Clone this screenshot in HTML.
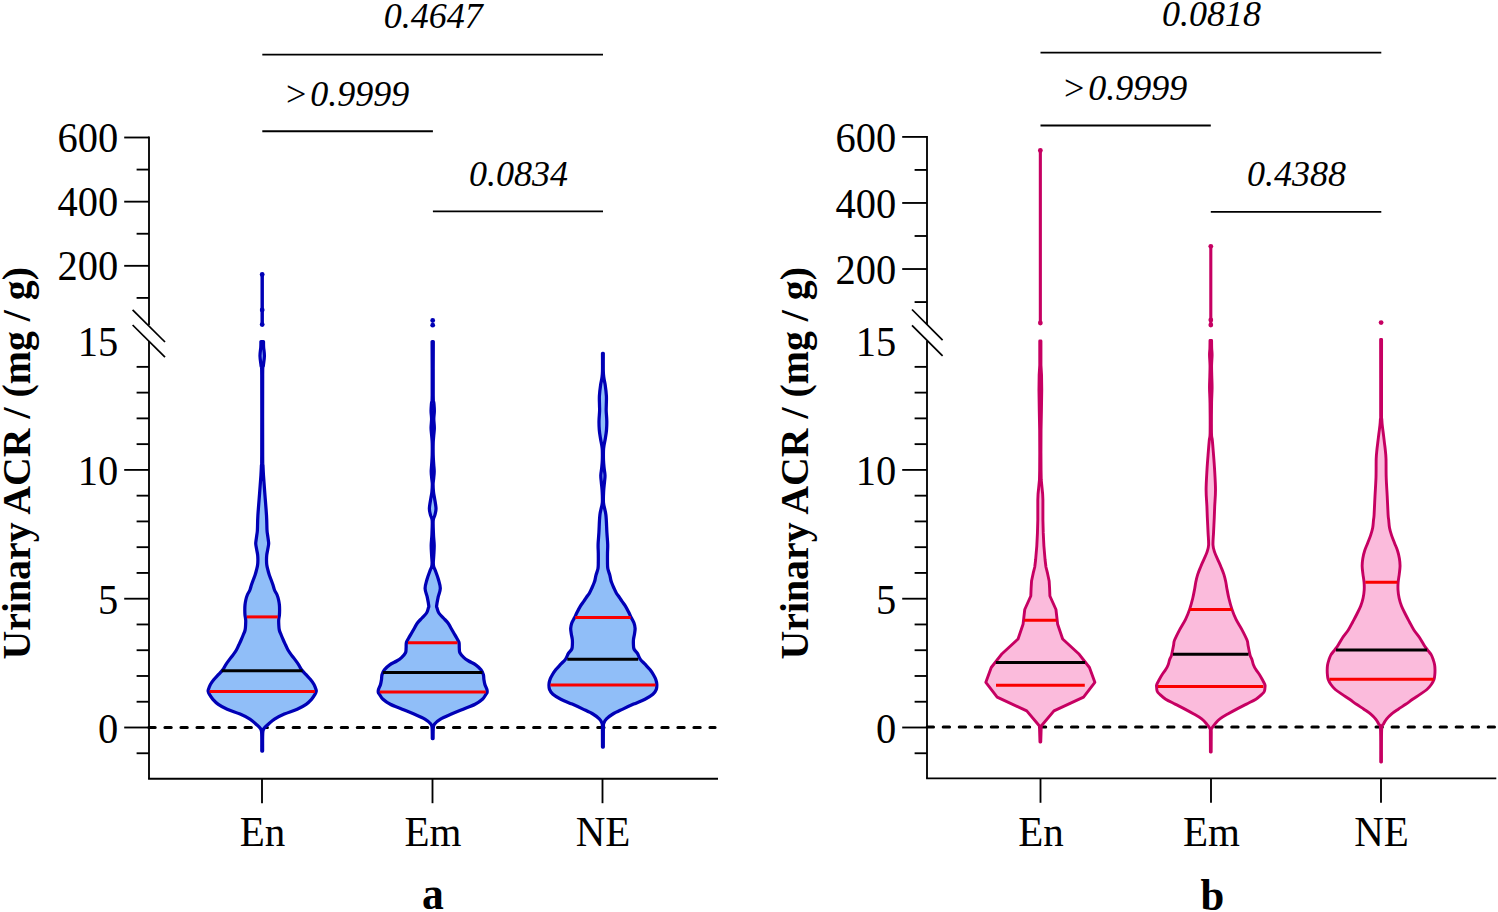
<!DOCTYPE html>
<html><head><meta charset="utf-8"><style>
html,body{margin:0;padding:0;background:#fff;overflow:hidden;}
svg{display:block;font-family:"Liberation Serif", serif;}
</style></head><body>
<svg width="1498" height="912" viewBox="0 0 1498 912">
<rect width="1498" height="912" fill="#fff"/>
<line x1="149" y1="136.57" x2="149" y2="325.00" stroke="#000" stroke-width="1.85"/>
<line x1="149" y1="341.00" x2="149" y2="778.70" stroke="#000" stroke-width="1.85"/>
<line x1="148.075" y1="778.7" x2="718" y2="778.7" stroke="#000" stroke-width="1.85"/>
<line x1="136.60" y1="297.90" x2="149" y2="297.90" stroke="#000" stroke-width="1.85"/>
<line x1="124.20" y1="265.82" x2="149" y2="265.82" stroke="#000" stroke-width="1.85"/>
<line x1="136.60" y1="233.74" x2="149" y2="233.74" stroke="#000" stroke-width="1.85"/>
<line x1="124.20" y1="201.66" x2="149" y2="201.66" stroke="#000" stroke-width="1.85"/>
<line x1="136.60" y1="169.58" x2="149" y2="169.58" stroke="#000" stroke-width="1.85"/>
<line x1="124.20" y1="137.50" x2="149" y2="137.50" stroke="#000" stroke-width="1.85"/>
<line x1="136.60" y1="753.26" x2="149" y2="753.26" stroke="#000" stroke-width="1.85"/>
<line x1="124.20" y1="727.50" x2="149" y2="727.50" stroke="#000" stroke-width="1.85"/>
<line x1="136.60" y1="701.74" x2="149" y2="701.74" stroke="#000" stroke-width="1.85"/>
<line x1="136.60" y1="675.98" x2="149" y2="675.98" stroke="#000" stroke-width="1.85"/>
<line x1="136.60" y1="650.22" x2="149" y2="650.22" stroke="#000" stroke-width="1.85"/>
<line x1="136.60" y1="624.46" x2="149" y2="624.46" stroke="#000" stroke-width="1.85"/>
<line x1="124.20" y1="598.70" x2="149" y2="598.70" stroke="#000" stroke-width="1.85"/>
<line x1="136.60" y1="572.94" x2="149" y2="572.94" stroke="#000" stroke-width="1.85"/>
<line x1="136.60" y1="547.18" x2="149" y2="547.18" stroke="#000" stroke-width="1.85"/>
<line x1="136.60" y1="521.42" x2="149" y2="521.42" stroke="#000" stroke-width="1.85"/>
<line x1="136.60" y1="495.66" x2="149" y2="495.66" stroke="#000" stroke-width="1.85"/>
<line x1="124.20" y1="469.90" x2="149" y2="469.90" stroke="#000" stroke-width="1.85"/>
<line x1="136.60" y1="444.14" x2="149" y2="444.14" stroke="#000" stroke-width="1.85"/>
<line x1="136.60" y1="418.38" x2="149" y2="418.38" stroke="#000" stroke-width="1.85"/>
<line x1="136.60" y1="392.62" x2="149" y2="392.62" stroke="#000" stroke-width="1.85"/>
<line x1="136.60" y1="366.86" x2="149" y2="366.86" stroke="#000" stroke-width="1.85"/>
<text transform="translate(118.20,152.00) scale(0.952,1)" font-size="42.5" text-anchor="end">600</text>
<text transform="translate(118.20,216.16) scale(0.952,1)" font-size="42.5" text-anchor="end">400</text>
<text transform="translate(118.20,280.32) scale(0.952,1)" font-size="42.5" text-anchor="end">200</text>
<text transform="translate(118.20,356.10) scale(0.952,1)" font-size="42.5" text-anchor="end">15</text>
<text transform="translate(118.20,484.90) scale(0.952,1)" font-size="42.5" text-anchor="end">10</text>
<text transform="translate(118.20,613.70) scale(0.952,1)" font-size="42.5" text-anchor="end">5</text>
<text transform="translate(118.20,742.50) scale(0.952,1)" font-size="42.5" text-anchor="end">0</text>
<line x1="132.6" y1="309.9" x2="165" y2="342" stroke="#000" stroke-width="1.75"/>
<line x1="132.6" y1="325" x2="165" y2="357.1" stroke="#000" stroke-width="1.75"/>
<line x1="262" y1="778.7" x2="262" y2="803.20" stroke="#000" stroke-width="1.85"/>
<text transform="translate(262.50,845.60) scale(0.988,1)" font-size="41.5" text-anchor="middle">En</text>
<line x1="432.5" y1="778.7" x2="432.5" y2="803.20" stroke="#000" stroke-width="1.85"/>
<text transform="translate(433.00,845.60) scale(0.988,1)" font-size="41.5" text-anchor="middle">Em</text>
<line x1="602.5" y1="778.7" x2="602.5" y2="803.20" stroke="#000" stroke-width="1.85"/>
<text transform="translate(603.00,845.60) scale(0.988,1)" font-size="41.5" text-anchor="middle">NE</text>
<path d="M148.87,727.5H155.22M164.90,727.5H171.25M180.93,727.5H187.28M196.96,727.5H203.31M212.99,727.5H219.34M229.02,727.5H235.37M245.05,727.5H251.40M261.08,727.5H267.43M277.11,727.5H283.46M293.14,727.5H299.49M309.17,727.5H315.52M325.20,727.5H331.55M341.23,727.5H347.58M357.26,727.5H363.61M373.29,727.5H379.64M389.32,727.5H395.67M405.35,727.5H411.70M421.38,727.5H427.73M437.41,727.5H443.76M453.44,727.5H459.79M469.47,727.5H475.82M485.50,727.5H491.85M501.53,727.5H507.88M517.56,727.5H523.91M533.59,727.5H539.94M549.62,727.5H555.97M565.65,727.5H572.00M581.68,727.5H588.03M597.71,727.5H604.06M613.74,727.5H620.09M629.77,727.5H636.12M645.80,727.5H652.15M661.83,727.5H668.18M677.86,727.5H684.21M693.89,727.5H700.24M709.92,727.5H715.10" stroke="#000" stroke-width="3.0" stroke-linecap="round" fill="none"/>
<text transform="translate(30.20,463.30) rotate(-90)" font-size="39.8" text-anchor="middle" font-weight="bold">Urinary ACR / (mg / g)</text>
<text transform="translate(433.00,909.40) scale(0.95,1)" font-size="46" text-anchor="middle" font-weight="bold">a</text>
<line x1="262.3" y1="54.6" x2="603" y2="54.6" stroke="#000" stroke-width="1.85"/>
<text x="433.3" y="28.4" font-size="36" font-style="italic" text-anchor="middle">0.4647</text>
<line x1="262.3" y1="131.2" x2="432.9" y2="131.2" stroke="#000" stroke-width="1.85"/>
<text x="283.80" y="105.6" font-size="36" font-style="italic">&gt;</text>
<text x="310.30" y="105.6" font-size="36" font-style="italic">0.9999</text>
<line x1="432.9" y1="211.3" x2="603" y2="211.3" stroke="#000" stroke-width="1.85"/>
<text x="518.4" y="185.5" font-size="36" font-style="italic" text-anchor="middle">0.0834</text>
<line x1="927" y1="135.97" x2="927" y2="325.00" stroke="#000" stroke-width="1.85"/>
<line x1="927" y1="341.00" x2="927" y2="778.30" stroke="#000" stroke-width="1.85"/>
<line x1="926.075" y1="778.3" x2="1496.3" y2="778.3" stroke="#000" stroke-width="1.85"/>
<line x1="914.60" y1="302.05" x2="927" y2="302.05" stroke="#000" stroke-width="1.85"/>
<line x1="902.20" y1="269.02" x2="927" y2="269.02" stroke="#000" stroke-width="1.85"/>
<line x1="914.60" y1="235.99" x2="927" y2="235.99" stroke="#000" stroke-width="1.85"/>
<line x1="902.20" y1="202.96" x2="927" y2="202.96" stroke="#000" stroke-width="1.85"/>
<line x1="914.60" y1="169.93" x2="927" y2="169.93" stroke="#000" stroke-width="1.85"/>
<line x1="902.20" y1="136.90" x2="927" y2="136.90" stroke="#000" stroke-width="1.85"/>
<line x1="914.60" y1="753.26" x2="927" y2="753.26" stroke="#000" stroke-width="1.85"/>
<line x1="902.20" y1="727.50" x2="927" y2="727.50" stroke="#000" stroke-width="1.85"/>
<line x1="914.60" y1="701.74" x2="927" y2="701.74" stroke="#000" stroke-width="1.85"/>
<line x1="914.60" y1="675.98" x2="927" y2="675.98" stroke="#000" stroke-width="1.85"/>
<line x1="914.60" y1="650.22" x2="927" y2="650.22" stroke="#000" stroke-width="1.85"/>
<line x1="914.60" y1="624.46" x2="927" y2="624.46" stroke="#000" stroke-width="1.85"/>
<line x1="902.20" y1="598.70" x2="927" y2="598.70" stroke="#000" stroke-width="1.85"/>
<line x1="914.60" y1="572.94" x2="927" y2="572.94" stroke="#000" stroke-width="1.85"/>
<line x1="914.60" y1="547.18" x2="927" y2="547.18" stroke="#000" stroke-width="1.85"/>
<line x1="914.60" y1="521.42" x2="927" y2="521.42" stroke="#000" stroke-width="1.85"/>
<line x1="914.60" y1="495.66" x2="927" y2="495.66" stroke="#000" stroke-width="1.85"/>
<line x1="902.20" y1="469.90" x2="927" y2="469.90" stroke="#000" stroke-width="1.85"/>
<line x1="914.60" y1="444.14" x2="927" y2="444.14" stroke="#000" stroke-width="1.85"/>
<line x1="914.60" y1="418.38" x2="927" y2="418.38" stroke="#000" stroke-width="1.85"/>
<line x1="914.60" y1="392.62" x2="927" y2="392.62" stroke="#000" stroke-width="1.85"/>
<line x1="914.60" y1="366.86" x2="927" y2="366.86" stroke="#000" stroke-width="1.85"/>
<text transform="translate(896.20,151.80) scale(0.952,1)" font-size="42.5" text-anchor="end">600</text>
<text transform="translate(896.20,217.86) scale(0.952,1)" font-size="42.5" text-anchor="end">400</text>
<text transform="translate(896.20,283.92) scale(0.952,1)" font-size="42.5" text-anchor="end">200</text>
<text transform="translate(896.20,356.10) scale(0.952,1)" font-size="42.5" text-anchor="end">15</text>
<text transform="translate(896.20,484.90) scale(0.952,1)" font-size="42.5" text-anchor="end">10</text>
<text transform="translate(896.20,613.70) scale(0.952,1)" font-size="42.5" text-anchor="end">5</text>
<text transform="translate(896.20,742.50) scale(0.952,1)" font-size="42.5" text-anchor="end">0</text>
<line x1="912" y1="309.5" x2="942.6" y2="340.1" stroke="#000" stroke-width="1.75"/>
<line x1="912" y1="325.3" x2="942.6" y2="355.9" stroke="#000" stroke-width="1.75"/>
<line x1="1040.5" y1="778.3" x2="1040.5" y2="802.80" stroke="#000" stroke-width="1.85"/>
<text transform="translate(1041.00,845.60) scale(0.988,1)" font-size="41.5" text-anchor="middle">En</text>
<line x1="1211" y1="778.3" x2="1211" y2="802.80" stroke="#000" stroke-width="1.85"/>
<text transform="translate(1211.50,845.60) scale(0.988,1)" font-size="41.5" text-anchor="middle">Em</text>
<line x1="1381" y1="778.3" x2="1381" y2="802.80" stroke="#000" stroke-width="1.85"/>
<text transform="translate(1381.50,845.60) scale(0.988,1)" font-size="41.5" text-anchor="middle">NE</text>
<path d="M927.17,727.0H933.52M943.20,727.0H949.55M959.23,727.0H965.58M975.26,727.0H981.61M991.29,727.0H997.64M1007.32,727.0H1013.67M1023.35,727.0H1029.70M1039.38,727.0H1045.73M1055.41,727.0H1061.76M1071.44,727.0H1077.79M1087.47,727.0H1093.82M1103.50,727.0H1109.85M1119.53,727.0H1125.88M1135.56,727.0H1141.91M1151.59,727.0H1157.94M1167.62,727.0H1173.97M1183.65,727.0H1190.00M1199.68,727.0H1206.03M1215.71,727.0H1222.06M1231.74,727.0H1238.09M1247.77,727.0H1254.12M1263.80,727.0H1270.15M1279.83,727.0H1286.18M1295.86,727.0H1302.21M1311.89,727.0H1318.24M1327.92,727.0H1334.27M1343.95,727.0H1350.30M1359.98,727.0H1366.33M1376.01,727.0H1382.36M1392.04,727.0H1398.39M1408.07,727.0H1414.42M1424.10,727.0H1430.45M1440.13,727.0H1446.48M1456.16,727.0H1462.51M1472.19,727.0H1478.54M1488.22,727.0H1494.50" stroke="#000" stroke-width="3.0" stroke-linecap="round" fill="none"/>
<text transform="translate(808.20,463.30) rotate(-90)" font-size="39.8" text-anchor="middle" font-weight="bold">Urinary ACR / (mg / g)</text>
<text transform="translate(1212.30,909.90) scale(0.95,1)" font-size="45" text-anchor="middle" font-weight="bold">b</text>
<line x1="1040.5" y1="52.6" x2="1381.3" y2="52.6" stroke="#000" stroke-width="1.85"/>
<text x="1211.4" y="26.3" font-size="36" font-style="italic" text-anchor="middle">0.0818</text>
<line x1="1040.5" y1="125.5" x2="1210.8" y2="125.5" stroke="#000" stroke-width="1.85"/>
<text x="1061.80" y="99.5" font-size="36" font-style="italic">&gt;</text>
<text x="1088.30" y="99.5" font-size="36" font-style="italic">0.9999</text>
<line x1="1210.8" y1="211.8" x2="1381.3" y2="211.8" stroke="#000" stroke-width="1.85"/>
<text x="1296.5" y="186" font-size="36" font-style="italic" text-anchor="middle">0.4388</text>
<path d="M263.50,341.50 C263.52,342.42 263.45,344.58 263.60,347.00 C263.75,349.42 264.45,352.83 264.40,356.00 C264.35,359.17 263.59,362.83 263.30,366.00 C263.01,369.17 262.76,360.17 262.65,375.00 C262.54,389.83 262.59,439.83 262.65,455.00 C262.71,470.17 262.87,462.67 263.00,466.00 C263.13,469.33 263.16,470.57 263.45,475.00 C263.74,479.43 264.24,485.87 264.75,492.60 C265.26,499.33 266.12,509.17 266.50,515.40 C266.88,521.63 266.82,526.73 267.00,530.00 C267.18,533.27 267.38,533.33 267.60,535.00 C267.82,536.67 268.12,538.50 268.30,540.00 C268.48,541.50 268.76,542.33 268.65,544.00 C268.54,545.67 267.97,548.17 267.65,550.00 C267.33,551.83 266.94,553.33 266.75,555.00 C266.56,556.67 266.49,558.33 266.50,560.00 C266.51,561.67 266.57,563.33 266.80,565.00 C267.03,566.67 267.48,568.33 267.90,570.00 C268.32,571.67 268.75,573.33 269.30,575.00 C269.85,576.67 270.58,578.33 271.20,580.00 C271.82,581.67 272.45,583.33 273.00,585.00 C273.55,586.67 273.82,588.33 274.50,590.00 C275.18,591.67 276.42,593.33 277.10,595.00 C277.78,596.67 278.22,598.33 278.60,600.00 C278.98,601.67 279.23,603.33 279.40,605.00 C279.57,606.67 279.60,608.33 279.60,610.00 C279.60,611.67 279.55,613.33 279.40,615.00 C279.25,616.67 278.80,618.33 278.70,620.00 C278.60,621.67 278.70,623.33 278.80,625.00 C278.90,626.67 278.90,628.33 279.30,630.00 C279.70,631.67 280.53,633.33 281.20,635.00 C281.87,636.67 282.57,638.33 283.30,640.00 C284.03,641.67 284.82,643.33 285.60,645.00 C286.38,646.67 287.05,648.35 288.00,650.00 C288.95,651.65 290.10,653.25 291.30,654.90 C292.50,656.55 293.97,658.25 295.20,659.90 C296.43,661.55 297.63,663.17 298.70,664.80 C299.77,666.43 300.37,668.05 301.60,669.70 C302.83,671.35 304.62,673.05 306.10,674.70 C307.58,676.35 309.18,677.97 310.50,679.60 C311.82,681.23 313.08,682.85 314.00,684.50 C314.92,686.15 315.63,688.35 316.00,689.50 C316.37,690.65 316.38,690.58 316.20,691.40 C316.02,692.22 315.73,693.08 314.95,694.40 C314.17,695.72 312.98,697.65 311.50,699.30 C310.02,700.95 308.48,702.65 306.10,704.30 C303.72,705.95 300.83,707.57 297.20,709.20 C293.57,710.83 288.08,712.45 284.30,714.10 C280.52,715.75 277.12,717.45 274.50,719.10 C271.88,720.75 270.40,722.37 268.60,724.00 C266.80,725.63 264.68,727.23 263.70,728.90 C262.72,730.57 262.88,730.32 262.70,734.00 C262.52,737.68 262.62,748.17 262.60,751.00 L261.80,751.00 C261.78,748.17 261.88,737.68 261.70,734.00 C261.52,730.32 261.68,730.57 260.70,728.90 C259.72,727.23 257.60,725.63 255.80,724.00 C254.00,722.37 252.52,720.75 249.90,719.10 C247.28,717.45 243.88,715.75 240.10,714.10 C236.32,712.45 230.83,710.83 227.20,709.20 C223.57,707.57 220.68,705.95 218.30,704.30 C215.92,702.65 214.37,700.95 212.90,699.30 C211.42,697.65 210.23,695.72 209.45,694.40 C208.67,693.08 208.38,692.22 208.20,691.40 C208.02,690.58 208.03,690.65 208.40,689.50 C208.77,688.35 209.48,686.15 210.40,684.50 C211.32,682.85 212.58,681.23 213.90,679.60 C215.22,677.97 216.82,676.35 218.30,674.70 C219.78,673.05 221.57,671.35 222.80,669.70 C224.03,668.05 224.63,666.43 225.70,664.80 C226.77,663.17 227.97,661.55 229.20,659.90 C230.43,658.25 231.90,656.55 233.10,654.90 C234.30,653.25 235.45,651.65 236.40,650.00 C237.35,648.35 238.02,646.67 238.80,645.00 C239.58,643.33 240.37,641.67 241.10,640.00 C241.83,638.33 242.53,636.67 243.20,635.00 C243.87,633.33 244.70,631.67 245.10,630.00 C245.50,628.33 245.50,626.67 245.60,625.00 C245.70,623.33 245.80,621.67 245.70,620.00 C245.60,618.33 245.15,616.67 245.00,615.00 C244.85,613.33 244.80,611.67 244.80,610.00 C244.80,608.33 244.83,606.67 245.00,605.00 C245.17,603.33 245.42,601.67 245.80,600.00 C246.18,598.33 246.62,596.67 247.30,595.00 C247.98,593.33 249.22,591.67 249.90,590.00 C250.58,588.33 250.85,586.67 251.40,585.00 C251.95,583.33 252.58,581.67 253.20,580.00 C253.82,578.33 254.55,576.67 255.10,575.00 C255.65,573.33 256.08,571.67 256.50,570.00 C256.92,568.33 257.37,566.67 257.60,565.00 C257.83,563.33 257.89,561.67 257.90,560.00 C257.91,558.33 257.84,556.67 257.65,555.00 C257.46,553.33 257.07,551.83 256.75,550.00 C256.43,548.17 255.86,545.67 255.75,544.00 C255.64,542.33 255.92,541.50 256.10,540.00 C256.27,538.50 256.58,536.67 256.80,535.00 C257.02,533.33 257.22,533.27 257.40,530.00 C257.58,526.73 257.52,521.63 257.90,515.40 C258.27,509.17 259.14,499.33 259.65,492.60 C260.16,485.87 260.66,479.43 260.95,475.00 C261.24,470.57 261.27,469.33 261.40,466.00 C261.53,462.67 261.69,470.17 261.75,455.00 C261.81,439.83 261.86,389.83 261.75,375.00 C261.64,360.17 261.39,369.17 261.10,366.00 C260.81,362.83 260.05,359.17 260.00,356.00 C259.95,352.83 260.65,349.42 260.80,347.00 C260.95,344.58 260.88,342.42 260.90,341.50 Z" fill="#90bef8" stroke="#0000b6" stroke-width="3.25" stroke-linejoin="round"/>
<line x1="246.8" y1="616.9" x2="277.8" y2="616.9" stroke="#fa0000" stroke-width="3.0"/>
<line x1="221.6" y1="670.8" x2="302.6" y2="670.8" stroke="#000" stroke-width="3.0"/>
<line x1="209.6" y1="691.6" x2="314.9" y2="691.6" stroke="#fa0000" stroke-width="3.0"/>
<line x1="262.2" y1="274.5" x2="262.2" y2="324.6" stroke="#0000b6" stroke-width="3.45" stroke-linecap="round"/>
<circle cx="262.2" cy="274.5" r="2.4" fill="#0000b6"/>
<circle cx="262.2" cy="310" r="2.4" fill="#0000b6"/>
<circle cx="262.2" cy="324.6" r="2.4" fill="#0000b6"/>
<path d="M433.30,341.50 C433.28,350.42 433.10,384.75 433.20,395.00 C433.30,405.25 433.71,400.33 433.90,403.00 C434.09,405.67 434.37,408.33 434.35,411.00 C434.33,413.67 433.80,416.17 433.80,419.00 C433.80,421.83 434.37,425.17 434.35,428.00 C434.33,430.83 433.89,433.50 433.70,436.00 C433.51,438.50 433.28,439.83 433.20,443.00 C433.12,446.17 433.12,451.50 433.20,455.00 C433.28,458.50 433.53,461.23 433.70,464.00 C433.87,466.77 434.20,469.27 434.20,471.60 C434.20,473.93 433.88,475.93 433.70,478.00 C433.52,480.07 433.13,481.67 433.10,484.00 C433.07,486.33 433.27,489.67 433.50,492.00 C433.73,494.33 434.08,495.27 434.50,498.00 C434.92,500.73 435.93,505.57 436.00,508.40 C436.07,511.23 435.37,512.95 434.90,515.00 C434.43,517.05 433.43,517.37 433.20,520.70 C432.97,524.03 433.33,530.90 433.50,535.00 C433.67,539.10 434.15,541.97 434.20,545.30 C434.25,548.63 433.95,552.13 433.80,555.00 C433.65,557.87 433.32,560.57 433.30,562.50 C433.28,564.43 433.33,565.18 433.70,566.60 C434.07,568.02 434.70,568.82 435.50,571.00 C436.30,573.18 437.70,576.78 438.50,579.70 C439.30,582.62 440.37,585.57 440.30,588.50 C440.23,591.43 438.72,594.38 438.10,597.30 C437.48,600.22 436.77,604.22 436.60,606.00 C436.42,607.78 436.68,606.83 437.05,608.00 C437.43,609.17 437.79,611.33 438.85,613.00 C439.91,614.67 441.88,616.33 443.40,618.00 C444.92,619.67 446.75,621.33 448.00,623.00 C449.25,624.67 449.93,626.33 450.90,628.00 C451.87,629.67 452.83,631.33 453.80,633.00 C454.77,634.67 455.83,636.42 456.70,638.00 C457.57,639.58 458.57,640.83 459.00,642.50 C459.43,644.17 459.15,646.28 459.30,648.00 C459.45,649.72 459.13,651.20 459.90,652.80 C460.67,654.40 462.43,656.23 463.90,657.60 C465.37,658.97 466.73,659.80 468.70,661.00 C470.67,662.20 473.65,663.35 475.70,664.80 C477.75,666.25 479.72,668.05 481.00,669.70 C482.28,671.35 482.92,673.05 483.40,674.70 C483.88,676.35 483.65,677.97 483.90,679.60 C484.15,681.23 484.40,682.85 484.90,684.50 C485.40,686.15 486.53,688.18 486.90,689.50 C487.27,690.82 487.27,691.58 487.10,692.40 C486.93,693.22 486.68,693.25 485.90,694.40 C485.12,695.55 484.20,697.65 482.40,699.30 C480.60,700.95 478.30,702.65 475.10,704.30 C471.90,705.95 467.15,707.57 463.20,709.20 C459.25,710.83 455.18,712.45 451.40,714.10 C447.62,715.75 443.30,717.45 440.50,719.10 C437.70,720.75 435.80,722.52 434.60,724.00 C433.40,725.48 433.55,725.58 433.30,728.00 C433.05,730.42 433.13,736.75 433.10,738.50 L432.30,738.50 C432.27,736.75 432.35,730.42 432.10,728.00 C431.85,725.58 432.00,725.48 430.80,724.00 C429.60,722.52 427.70,720.75 424.90,719.10 C422.10,717.45 417.78,715.75 414.00,714.10 C410.22,712.45 406.15,710.83 402.20,709.20 C398.25,707.57 393.50,705.95 390.30,704.30 C387.10,702.65 384.80,700.95 383.00,699.30 C381.20,697.65 380.28,695.55 379.50,694.40 C378.72,693.25 378.47,693.22 378.30,692.40 C378.13,691.58 378.13,690.82 378.50,689.50 C378.87,688.18 380.00,686.15 380.50,684.50 C381.00,682.85 381.25,681.23 381.50,679.60 C381.75,677.97 381.52,676.35 382.00,674.70 C382.48,673.05 383.12,671.35 384.40,669.70 C385.68,668.05 387.65,666.25 389.70,664.80 C391.75,663.35 394.73,662.20 396.70,661.00 C398.67,659.80 400.03,658.97 401.50,657.60 C402.97,656.23 404.73,654.40 405.50,652.80 C406.27,651.20 405.95,649.72 406.10,648.00 C406.25,646.28 405.97,644.17 406.40,642.50 C406.83,640.83 407.83,639.58 408.70,638.00 C409.57,636.42 410.63,634.67 411.60,633.00 C412.57,631.33 413.53,629.67 414.50,628.00 C415.47,626.33 416.15,624.67 417.40,623.00 C418.65,621.33 420.48,619.67 422.00,618.00 C423.52,616.33 425.49,614.67 426.55,613.00 C427.61,611.33 427.97,609.17 428.35,608.00 C428.72,606.83 428.98,607.78 428.80,606.00 C428.62,604.22 427.92,600.22 427.30,597.30 C426.68,594.38 425.17,591.43 425.10,588.50 C425.03,585.57 426.10,582.62 426.90,579.70 C427.70,576.78 429.10,573.18 429.90,571.00 C430.70,568.82 431.33,568.02 431.70,566.60 C432.07,565.18 432.12,564.43 432.10,562.50 C432.08,560.57 431.75,557.87 431.60,555.00 C431.45,552.13 431.15,548.63 431.20,545.30 C431.25,541.97 431.73,539.10 431.90,535.00 C432.07,530.90 432.43,524.03 432.20,520.70 C431.97,517.37 430.97,517.05 430.50,515.00 C430.03,512.95 429.33,511.23 429.40,508.40 C429.47,505.57 430.48,500.73 430.90,498.00 C431.32,495.27 431.67,494.33 431.90,492.00 C432.13,489.67 432.33,486.33 432.30,484.00 C432.27,481.67 431.88,480.07 431.70,478.00 C431.52,475.93 431.20,473.93 431.20,471.60 C431.20,469.27 431.53,466.77 431.70,464.00 C431.87,461.23 432.12,458.50 432.20,455.00 C432.28,451.50 432.28,446.17 432.20,443.00 C432.12,439.83 431.89,438.50 431.70,436.00 C431.51,433.50 431.07,430.83 431.05,428.00 C431.03,425.17 431.60,421.83 431.60,419.00 C431.60,416.17 431.07,413.67 431.05,411.00 C431.03,408.33 431.31,405.67 431.50,403.00 C431.69,400.33 432.10,405.25 432.20,395.00 C432.30,384.75 432.12,350.42 432.10,341.50 Z" fill="#90bef8" stroke="#0000b6" stroke-width="3.25" stroke-linejoin="round"/>
<line x1="408" y1="642.8" x2="457.4" y2="642.8" stroke="#fa0000" stroke-width="3.0"/>
<line x1="382.8" y1="672.4" x2="482.4" y2="672.4" stroke="#000" stroke-width="3.0"/>
<line x1="379.8" y1="691.9" x2="485.8" y2="691.9" stroke="#fa0000" stroke-width="3.0"/>
<circle cx="432.7" cy="320.5" r="2.4" fill="#0000b6"/>
<circle cx="432.7" cy="325.2" r="2.4" fill="#0000b6"/>
<path d="M603.30,353.30 C603.30,356.25 603.20,366.88 603.30,371.00 C603.40,375.12 603.58,375.67 603.90,378.00 C604.22,380.33 604.78,382.00 605.20,385.00 C605.62,388.00 606.22,392.67 606.40,396.00 C606.58,399.33 606.33,402.50 606.30,405.00 C606.27,407.50 606.12,408.33 606.20,411.00 C606.28,413.67 606.75,417.83 606.80,421.00 C606.85,424.17 606.73,427.17 606.50,430.00 C606.27,432.83 605.80,435.50 605.40,438.00 C605.00,440.50 604.42,443.00 604.10,445.00 C603.78,447.00 603.60,447.43 603.50,450.00 C603.40,452.57 603.40,457.40 603.50,460.40 C603.60,463.40 603.85,465.52 604.10,468.00 C604.35,470.48 604.93,472.97 605.00,475.30 C605.07,477.63 604.72,479.47 604.50,482.00 C604.28,484.53 603.87,487.03 603.70,490.50 C603.53,493.97 603.13,498.72 603.50,502.80 C603.87,506.88 605.33,510.03 605.90,515.00 C606.47,519.97 606.60,527.70 606.90,532.60 C607.20,537.50 607.60,540.97 607.70,544.40 C607.80,547.83 607.53,550.28 607.50,553.20 C607.47,556.12 607.45,559.35 607.50,561.90 C607.55,564.45 607.42,566.30 607.80,568.50 C608.18,570.70 609.30,573.18 609.80,575.10 C610.30,577.02 610.47,578.68 610.80,580.00 C611.13,581.32 611.28,581.67 611.80,583.00 C612.32,584.33 613.15,586.33 613.90,588.00 C614.65,589.67 615.53,591.67 616.30,593.00 C617.07,594.33 617.57,594.65 618.50,596.00 C619.43,597.35 620.75,599.42 621.90,601.10 C623.05,602.78 624.28,604.28 625.40,606.10 C626.52,607.92 627.63,610.10 628.60,612.00 C629.57,613.90 630.30,615.67 631.20,617.50 C632.10,619.33 633.35,621.18 634.00,623.00 C634.65,624.82 635.02,626.58 635.10,628.40 C635.18,630.22 634.77,632.07 634.50,633.90 C634.23,635.73 633.68,637.72 633.50,639.40 C633.32,641.08 633.32,642.40 633.40,644.00 C633.48,645.60 633.33,647.45 634.00,649.00 C634.67,650.55 636.37,651.62 637.40,653.30 C638.43,654.98 638.85,657.20 640.20,659.10 C641.55,661.00 643.88,662.95 645.50,664.70 C647.12,666.45 648.60,667.97 649.90,669.60 C651.20,671.23 652.32,672.85 653.30,674.50 C654.28,676.15 655.22,677.85 655.80,679.50 C656.38,681.15 656.72,682.77 656.80,684.40 C656.88,686.03 656.95,687.65 656.30,689.30 C655.65,690.95 654.78,692.65 652.90,694.30 C651.02,695.95 648.22,697.57 645.00,699.20 C641.78,700.83 637.30,702.45 633.60,704.10 C629.90,705.75 626.25,707.45 622.80,709.10 C619.35,710.75 615.62,712.37 612.90,714.00 C610.18,715.63 608.00,717.40 606.50,718.90 C605.00,720.40 604.42,721.65 603.90,723.00 C603.38,724.35 603.50,723.00 603.40,727.00 C603.30,731.00 603.32,743.67 603.30,747.00 L602.50,747.00 C602.48,743.67 602.50,731.00 602.40,727.00 C602.30,723.00 602.42,724.35 601.90,723.00 C601.38,721.65 600.80,720.40 599.30,718.90 C597.80,717.40 595.62,715.63 592.90,714.00 C590.18,712.37 586.45,710.75 583.00,709.10 C579.55,707.45 575.90,705.75 572.20,704.10 C568.50,702.45 564.02,700.83 560.80,699.20 C557.58,697.57 554.78,695.95 552.90,694.30 C551.02,692.65 550.15,690.95 549.50,689.30 C548.85,687.65 548.92,686.03 549.00,684.40 C549.08,682.77 549.42,681.15 550.00,679.50 C550.58,677.85 551.52,676.15 552.50,674.50 C553.48,672.85 554.60,671.23 555.90,669.60 C557.20,667.97 558.68,666.45 560.30,664.70 C561.92,662.95 564.25,661.00 565.60,659.10 C566.95,657.20 567.37,654.98 568.40,653.30 C569.43,651.62 571.13,650.55 571.80,649.00 C572.47,647.45 572.32,645.60 572.40,644.00 C572.48,642.40 572.48,641.08 572.30,639.40 C572.12,637.72 571.57,635.73 571.30,633.90 C571.03,632.07 570.62,630.22 570.70,628.40 C570.78,626.58 571.15,624.82 571.80,623.00 C572.45,621.18 573.70,619.33 574.60,617.50 C575.50,615.67 576.23,613.90 577.20,612.00 C578.17,610.10 579.28,607.92 580.40,606.10 C581.52,604.28 582.75,602.78 583.90,601.10 C585.05,599.42 586.37,597.35 587.30,596.00 C588.23,594.65 588.73,594.33 589.50,593.00 C590.27,591.67 591.15,589.67 591.90,588.00 C592.65,586.33 593.48,584.33 594.00,583.00 C594.52,581.67 594.67,581.32 595.00,580.00 C595.33,578.68 595.50,577.02 596.00,575.10 C596.50,573.18 597.62,570.70 598.00,568.50 C598.38,566.30 598.25,564.45 598.30,561.90 C598.35,559.35 598.33,556.12 598.30,553.20 C598.27,550.28 598.00,547.83 598.10,544.40 C598.20,540.97 598.60,537.50 598.90,532.60 C599.20,527.70 599.33,519.97 599.90,515.00 C600.47,510.03 601.93,506.88 602.30,502.80 C602.67,498.72 602.27,493.97 602.10,490.50 C601.93,487.03 601.52,484.53 601.30,482.00 C601.08,479.47 600.73,477.63 600.80,475.30 C600.87,472.97 601.45,470.48 601.70,468.00 C601.95,465.52 602.20,463.40 602.30,460.40 C602.40,457.40 602.40,452.57 602.30,450.00 C602.20,447.43 602.02,447.00 601.70,445.00 C601.38,443.00 600.80,440.50 600.40,438.00 C600.00,435.50 599.53,432.83 599.30,430.00 C599.07,427.17 598.95,424.17 599.00,421.00 C599.05,417.83 599.52,413.67 599.60,411.00 C599.68,408.33 599.53,407.50 599.50,405.00 C599.47,402.50 599.22,399.33 599.40,396.00 C599.58,392.67 600.18,388.00 600.60,385.00 C601.02,382.00 601.58,380.33 601.90,378.00 C602.22,375.67 602.40,375.12 602.50,371.00 C602.60,366.88 602.50,356.25 602.50,353.30 Z" fill="#90bef8" stroke="#0000b6" stroke-width="3.25" stroke-linejoin="round"/>
<line x1="575.2" y1="617.6" x2="630.7" y2="617.6" stroke="#fa0000" stroke-width="3.0"/>
<line x1="567.3" y1="659.2" x2="638.2" y2="659.2" stroke="#000" stroke-width="3.0"/>
<line x1="550.4" y1="684.9" x2="655.6" y2="684.9" stroke="#fa0000" stroke-width="3.0"/>
<path d="M1040.95,341.00 L1040.95,365.00 L1041.55,375.00 L1041.75,390.00 L1041.45,410.00 L1041.05,430.00 L1040.95,453.00 L1041.05,470.00 L1041.25,480.00 L1042.65,494.00 L1042.90,500.00 L1042.90,519.70 L1043.25,532.90 L1043.90,546.00 L1045.10,560.00 L1045.95,567.00 L1047.50,573.20 L1049.15,581.00 L1049.60,588.50 L1049.90,596.00 L1055.95,609.50 L1057.65,624.30 L1062.65,639.00 L1078.65,653.70 L1089.45,667.50 L1094.85,682.30 L1083.55,697.10 L1053.95,710.90 L1041.25,726.00 L1040.75,742.00 L1039.95,742.00 L1039.45,726.00 L1026.75,710.90 L997.15,697.10 L985.85,682.30 L991.25,667.50 L1002.05,653.70 L1018.05,639.00 L1023.05,624.30 L1024.75,609.50 L1030.80,596.00 L1031.10,588.50 L1031.55,581.00 L1033.20,573.20 L1034.75,567.00 L1035.60,560.00 L1036.80,546.00 L1037.45,532.90 L1037.80,519.70 L1037.80,500.00 L1038.05,494.00 L1039.45,480.00 L1039.65,470.00 L1039.75,453.00 L1039.65,430.00 L1039.25,410.00 L1038.95,390.00 L1039.15,375.00 L1039.75,365.00 L1039.75,341.00 Z" fill="#fbbbdc" stroke="#c60062" stroke-width="2.9" stroke-linejoin="round"/>
<line x1="1024.1" y1="620.2" x2="1056.6" y2="620.2" stroke="#fa0000" stroke-width="3.0"/>
<line x1="995.8" y1="662.6" x2="1085.1" y2="662.6" stroke="#000" stroke-width="3.0"/>
<line x1="996" y1="685.3" x2="1084.8" y2="685.3" stroke="#fa0000" stroke-width="3.0"/>
<line x1="1040.35" y1="150.5" x2="1040.35" y2="323" stroke="#c60062" stroke-width="3.1" stroke-linecap="round"/>
<circle cx="1040.35" cy="150.5" r="2.4" fill="#c60062"/>
<circle cx="1040.35" cy="323" r="2.4" fill="#c60062"/>
<path d="M1211.60,340.50 C1211.62,341.75 1211.62,345.58 1211.70,348.00 C1211.78,350.42 1212.12,352.10 1212.10,355.00 C1212.08,357.90 1211.65,361.90 1211.60,365.40 C1211.55,368.90 1211.72,372.23 1211.80,376.00 C1211.88,379.77 1212.13,383.50 1212.10,388.00 C1212.07,392.50 1211.70,395.50 1211.60,403.00 C1211.50,410.50 1211.38,426.83 1211.50,433.00 C1211.62,439.17 1212.00,436.87 1212.30,440.00 C1212.60,443.13 1212.92,446.87 1213.30,451.80 C1213.68,456.73 1214.23,463.27 1214.60,469.60 C1214.97,475.93 1215.48,483.68 1215.50,489.80 C1215.52,495.92 1214.90,501.77 1214.70,506.30 C1214.50,510.83 1214.49,512.65 1214.30,517.00 C1214.11,521.35 1213.77,527.73 1213.55,532.40 C1213.33,537.07 1212.81,541.67 1213.00,545.00 C1213.19,548.33 1213.88,549.93 1214.70,552.40 C1215.52,554.87 1216.83,557.33 1217.90,559.80 C1218.97,562.27 1220.09,564.73 1221.10,567.20 C1222.11,569.67 1223.17,572.13 1223.95,574.60 C1224.73,577.07 1225.33,579.77 1225.80,582.00 C1226.27,584.23 1226.30,585.33 1226.80,588.00 C1227.30,590.67 1227.95,594.48 1228.80,598.00 C1229.65,601.52 1230.69,605.53 1231.90,609.10 C1233.11,612.67 1234.38,615.98 1236.05,619.40 C1237.72,622.82 1240.06,626.12 1241.90,629.60 C1243.74,633.08 1246.08,637.73 1247.10,640.30 C1248.12,642.87 1247.52,642.58 1248.00,645.00 C1248.48,647.42 1249.33,652.35 1250.00,654.80 C1250.67,657.25 1251.43,658.05 1252.00,659.70 C1252.57,661.35 1252.75,663.05 1253.40,664.70 C1254.05,666.35 1254.90,667.97 1255.90,669.60 C1256.90,671.23 1258.33,672.85 1259.40,674.50 C1260.47,676.15 1261.40,677.85 1262.30,679.50 C1263.20,681.15 1264.33,683.25 1264.80,684.40 C1265.27,685.55 1265.17,685.25 1265.10,686.40 C1265.03,687.55 1264.93,689.98 1264.40,691.30 C1263.87,692.62 1263.32,692.98 1261.90,694.30 C1260.48,695.62 1258.47,697.57 1255.90,699.20 C1253.33,700.83 1249.70,702.45 1246.50,704.10 C1243.30,705.75 1239.82,707.45 1236.70,709.10 C1233.58,710.75 1230.60,712.37 1227.80,714.00 C1225.00,715.63 1222.03,717.25 1219.90,718.90 C1217.77,720.55 1216.40,722.25 1215.00,723.90 C1213.60,725.55 1212.12,727.45 1211.50,728.80 C1210.88,730.15 1211.35,728.13 1211.30,732.00 C1211.25,735.87 1211.22,748.67 1211.20,752.00 L1210.40,752.00 C1210.38,748.67 1210.35,735.87 1210.30,732.00 C1210.25,728.13 1210.72,730.15 1210.10,728.80 C1209.48,727.45 1208.00,725.55 1206.60,723.90 C1205.20,722.25 1203.83,720.55 1201.70,718.90 C1199.57,717.25 1196.60,715.63 1193.80,714.00 C1191.00,712.37 1188.02,710.75 1184.90,709.10 C1181.78,707.45 1178.30,705.75 1175.10,704.10 C1171.90,702.45 1168.27,700.83 1165.70,699.20 C1163.13,697.57 1161.12,695.62 1159.70,694.30 C1158.28,692.98 1157.73,692.62 1157.20,691.30 C1156.67,689.98 1156.57,687.55 1156.50,686.40 C1156.43,685.25 1156.33,685.55 1156.80,684.40 C1157.27,683.25 1158.40,681.15 1159.30,679.50 C1160.20,677.85 1161.13,676.15 1162.20,674.50 C1163.27,672.85 1164.70,671.23 1165.70,669.60 C1166.70,667.97 1167.55,666.35 1168.20,664.70 C1168.85,663.05 1169.03,661.35 1169.60,659.70 C1170.17,658.05 1170.93,657.25 1171.60,654.80 C1172.27,652.35 1173.12,647.42 1173.60,645.00 C1174.08,642.58 1173.48,642.87 1174.50,640.30 C1175.52,637.73 1177.86,633.08 1179.70,629.60 C1181.54,626.12 1183.88,622.82 1185.55,619.40 C1187.22,615.98 1188.49,612.67 1189.70,609.10 C1190.91,605.53 1191.95,601.52 1192.80,598.00 C1193.65,594.48 1194.30,590.67 1194.80,588.00 C1195.30,585.33 1195.33,584.23 1195.80,582.00 C1196.27,579.77 1196.87,577.07 1197.65,574.60 C1198.43,572.13 1199.49,569.67 1200.50,567.20 C1201.51,564.73 1202.63,562.27 1203.70,559.80 C1204.77,557.33 1206.08,554.87 1206.90,552.40 C1207.72,549.93 1208.41,548.33 1208.60,545.00 C1208.79,541.67 1208.27,537.07 1208.05,532.40 C1207.83,527.73 1207.49,521.35 1207.30,517.00 C1207.11,512.65 1207.10,510.83 1206.90,506.30 C1206.70,501.77 1206.08,495.92 1206.10,489.80 C1206.12,483.68 1206.63,475.93 1207.00,469.60 C1207.37,463.27 1207.92,456.73 1208.30,451.80 C1208.68,446.87 1209.00,443.13 1209.30,440.00 C1209.60,436.87 1209.98,439.17 1210.10,433.00 C1210.22,426.83 1210.10,410.50 1210.00,403.00 C1209.90,395.50 1209.53,392.50 1209.50,388.00 C1209.47,383.50 1209.72,379.77 1209.80,376.00 C1209.88,372.23 1210.05,368.90 1210.00,365.40 C1209.95,361.90 1209.52,357.90 1209.50,355.00 C1209.48,352.10 1209.82,350.42 1209.90,348.00 C1209.98,345.58 1209.98,341.75 1210.00,340.50 Z" fill="#fbbbdc" stroke="#c60062" stroke-width="2.9" stroke-linejoin="round"/>
<line x1="1189.4" y1="609.4" x2="1232.0" y2="609.4" stroke="#fa0000" stroke-width="3.0"/>
<line x1="1173" y1="654.3" x2="1248.5" y2="654.3" stroke="#000" stroke-width="3.0"/>
<line x1="1158" y1="686.4" x2="1263.4" y2="686.4" stroke="#fa0000" stroke-width="3.0"/>
<line x1="1210.8" y1="246.3" x2="1210.8" y2="324.8" stroke="#c60062" stroke-width="3.1" stroke-linecap="round"/>
<circle cx="1210.8" cy="246.3" r="2.4" fill="#c60062"/>
<circle cx="1210.8" cy="320" r="2.4" fill="#c60062"/>
<circle cx="1210.8" cy="325" r="2.4" fill="#c60062"/>
<path d="M1381.60,339.50 C1381.59,352.25 1381.52,402.75 1381.55,416.00 C1381.58,429.25 1381.68,417.47 1381.80,419.00 C1381.92,420.53 1381.98,422.67 1382.25,425.20 C1382.52,427.73 1383.02,431.18 1383.40,434.20 C1383.77,437.22 1384.18,440.67 1384.50,443.30 C1384.82,445.93 1385.05,447.43 1385.30,450.00 C1385.55,452.57 1385.85,454.15 1386.00,458.70 C1386.15,463.25 1386.00,471.08 1386.20,477.30 C1386.40,483.52 1386.88,489.78 1387.20,496.00 C1387.52,502.22 1387.85,510.60 1388.10,514.60 C1388.35,518.60 1388.47,517.82 1388.70,520.00 C1388.93,522.18 1389.02,525.13 1389.50,527.70 C1389.98,530.27 1390.77,532.85 1391.60,535.40 C1392.43,537.95 1393.51,540.45 1394.50,543.00 C1395.49,545.55 1396.73,548.13 1397.55,550.70 C1398.37,553.27 1398.98,555.83 1399.40,558.40 C1399.82,560.97 1400.07,563.53 1400.05,566.10 C1400.03,568.67 1399.62,571.12 1399.30,573.80 C1398.98,576.48 1398.37,579.50 1398.15,582.20 C1397.93,584.90 1397.84,587.37 1398.00,590.00 C1398.16,592.63 1398.52,595.33 1399.10,598.00 C1399.68,600.67 1400.47,603.33 1401.50,606.00 C1402.53,608.67 1403.97,611.33 1405.30,614.00 C1406.63,616.67 1408.07,619.33 1409.50,622.00 C1410.93,624.67 1412.18,627.33 1413.90,630.00 C1415.62,632.67 1418.02,635.33 1419.80,638.00 C1421.58,640.67 1423.30,644.00 1424.60,646.00 C1425.90,648.00 1426.48,648.52 1427.60,650.00 C1428.72,651.48 1430.35,653.25 1431.30,654.90 C1432.25,656.55 1432.75,658.25 1433.30,659.90 C1433.85,661.55 1434.32,663.17 1434.60,664.80 C1434.88,666.43 1434.97,668.05 1435.00,669.70 C1435.03,671.35 1434.97,673.05 1434.80,674.70 C1434.63,676.35 1434.58,677.97 1434.00,679.60 C1433.42,681.23 1432.48,682.85 1431.30,684.50 C1430.12,686.15 1428.78,687.85 1426.90,689.50 C1425.02,691.15 1422.38,692.77 1420.00,694.40 C1417.62,696.03 1414.98,697.65 1412.60,699.30 C1410.22,700.95 1408.08,702.65 1405.70,704.30 C1403.32,705.95 1400.68,707.57 1398.30,709.20 C1395.92,710.83 1393.37,712.45 1391.40,714.10 C1389.43,715.75 1387.82,717.45 1386.50,719.10 C1385.18,720.75 1384.30,722.37 1383.50,724.00 C1382.70,725.63 1382.03,722.57 1381.70,728.90 C1381.37,735.23 1381.53,756.48 1381.50,762.00 L1380.70,762.00 C1380.67,756.48 1380.83,735.23 1380.50,728.90 C1380.17,722.57 1379.50,725.63 1378.70,724.00 C1377.90,722.37 1377.02,720.75 1375.70,719.10 C1374.38,717.45 1372.77,715.75 1370.80,714.10 C1368.83,712.45 1366.28,710.83 1363.90,709.20 C1361.52,707.57 1358.88,705.95 1356.50,704.30 C1354.12,702.65 1351.98,700.95 1349.60,699.30 C1347.22,697.65 1344.58,696.03 1342.20,694.40 C1339.82,692.77 1337.18,691.15 1335.30,689.50 C1333.42,687.85 1332.08,686.15 1330.90,684.50 C1329.72,682.85 1328.78,681.23 1328.20,679.60 C1327.62,677.97 1327.57,676.35 1327.40,674.70 C1327.23,673.05 1327.17,671.35 1327.20,669.70 C1327.23,668.05 1327.32,666.43 1327.60,664.80 C1327.88,663.17 1328.35,661.55 1328.90,659.90 C1329.45,658.25 1329.95,656.55 1330.90,654.90 C1331.85,653.25 1333.48,651.48 1334.60,650.00 C1335.72,648.52 1336.30,648.00 1337.60,646.00 C1338.90,644.00 1340.62,640.67 1342.40,638.00 C1344.18,635.33 1346.58,632.67 1348.30,630.00 C1350.02,627.33 1351.27,624.67 1352.70,622.00 C1354.13,619.33 1355.57,616.67 1356.90,614.00 C1358.23,611.33 1359.67,608.67 1360.70,606.00 C1361.73,603.33 1362.52,600.67 1363.10,598.00 C1363.68,595.33 1364.04,592.63 1364.20,590.00 C1364.36,587.37 1364.27,584.90 1364.05,582.20 C1363.83,579.50 1363.22,576.48 1362.90,573.80 C1362.58,571.12 1362.17,568.67 1362.15,566.10 C1362.13,563.53 1362.38,560.97 1362.80,558.40 C1363.22,555.83 1363.83,553.27 1364.65,550.70 C1365.47,548.13 1366.71,545.55 1367.70,543.00 C1368.69,540.45 1369.77,537.95 1370.60,535.40 C1371.43,532.85 1372.22,530.27 1372.70,527.70 C1373.18,525.13 1373.27,522.18 1373.50,520.00 C1373.73,517.82 1373.85,518.60 1374.10,514.60 C1374.35,510.60 1374.68,502.22 1375.00,496.00 C1375.32,489.78 1375.80,483.52 1376.00,477.30 C1376.20,471.08 1376.05,463.25 1376.20,458.70 C1376.35,454.15 1376.65,452.57 1376.90,450.00 C1377.15,447.43 1377.38,445.93 1377.70,443.30 C1378.02,440.67 1378.42,437.22 1378.80,434.20 C1379.17,431.18 1379.68,427.73 1379.95,425.20 C1380.22,422.67 1380.28,420.53 1380.40,419.00 C1380.52,417.47 1380.62,429.25 1380.65,416.00 C1380.68,402.75 1380.61,352.25 1380.60,339.50 Z" fill="#fbbbdc" stroke="#c60062" stroke-width="2.9" stroke-linejoin="round"/>
<line x1="1365.3" y1="582.3" x2="1397.4" y2="582.3" stroke="#fa0000" stroke-width="3.0"/>
<line x1="1336" y1="649.9" x2="1427.1" y2="649.9" stroke="#000" stroke-width="3.0"/>
<line x1="1329.4" y1="679.2" x2="1433.7" y2="679.2" stroke="#fa0000" stroke-width="3.0"/>
<circle cx="1381.1" cy="322.6" r="2.4" fill="#c60062"/>
</svg></body></html>
